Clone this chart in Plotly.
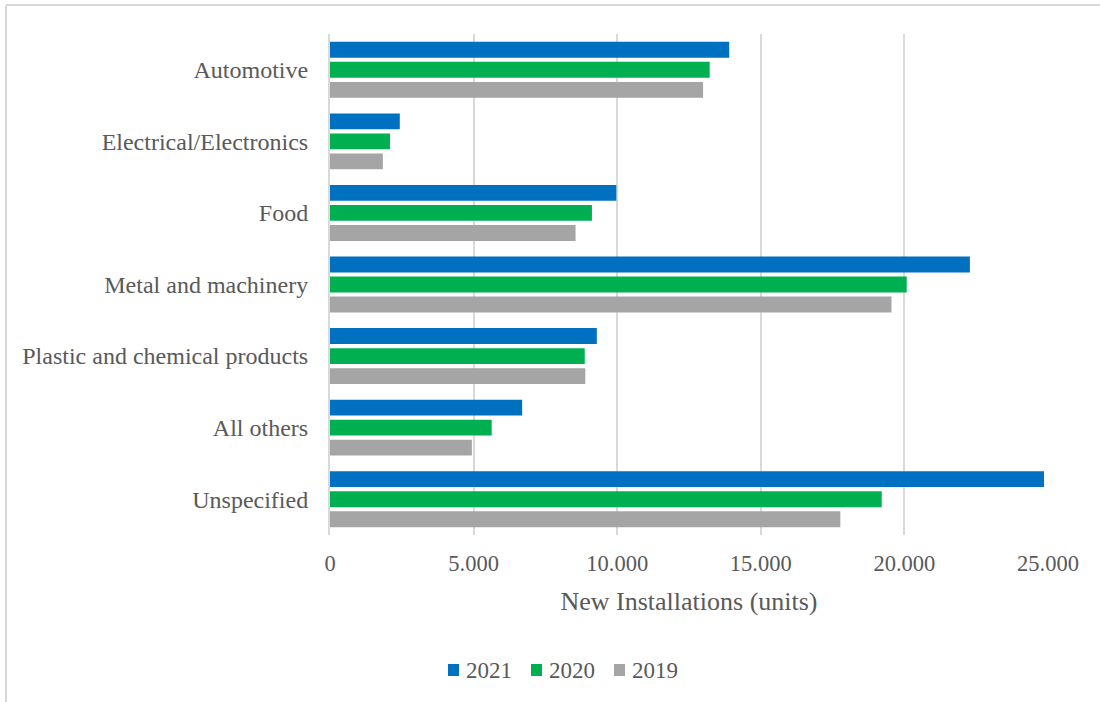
import plotly.graph_objects as go

# Robot installations by customer industry
categories = [
    "Automotive",
    "Electrical/Electronics",
    "Food",
    "Metal and machinery",
    "Plastic and chemical products",
    "All others",
    "Unspecified",
]
years = ["2021", "2020", "2019"]
units_2021 = [13900, 2430, 9970, 22280, 9290, 6690, 24860]
units_2020 = [13220, 2090, 9120, 20080, 8870, 5630, 19210]
units_2019 = [12990, 1840, 8550, 19550, 8890, 4940, 17770]
x_tick_vals = [0, 5000, 10000, 15000, 20000, 25000]
x_tick_text = ["0", "5.000", "10.000", "15.000", "20.000", "25.000"]
x_title = "New Installations (units)"

colors = ["#0070C0", "#00B050", "#A5A5A5"]
text_color = "#595959"
grid_color = "#D9D9D9"
font_family = "Liberation Serif, Times New Roman, serif"

W, H = 1100, 702
M_L, M_R, M_T, M_B = 330, 52, 34, 167
PLOT_W = W - M_L - M_R
PLOT_H = H - M_T - M_B


def px_to_paper_x(px):
    return (px - M_L) / PLOT_W


def px_to_paper_y(py):
    return (H - M_B - py) / PLOT_H


fig = go.Figure()
for name, vals, col in zip(years, [units_2021, units_2020, units_2019], colors):
    fig.add_trace(go.Bar(
        y=categories,
        x=vals,
        name=name,
        orientation="h",
        marker=dict(color=col, line=dict(width=0)),
        showlegend=False,
    ))

# Compact legend row below the axis title: swatch + year label
shapes = [
    # chart frame (left and top edges)
    dict(type="line", xref="paper", yref="paper",
         x0=px_to_paper_x(6), x1=px_to_paper_x(6),
         y0=px_to_paper_y(5), y1=px_to_paper_y(760),
         line=dict(color=grid_color, width=2)),
    dict(type="line", xref="paper", yref="paper",
         x0=px_to_paper_x(6), x1=px_to_paper_x(1200),
         y0=px_to_paper_y(5), y1=px_to_paper_y(5),
         line=dict(color=grid_color, width=2)),
]
annotations = []
legend_x0, legend_pitch, legend_y = 448, 83, 670
for i, (name, col) in enumerate(zip(years, colors)):
    sx = legend_x0 + i * legend_pitch
    shapes.append(dict(
        type="rect", xref="paper", yref="paper",
        x0=px_to_paper_x(sx), x1=px_to_paper_x(sx + 11),
        y0=px_to_paper_y(legend_y - 6), y1=px_to_paper_y(legend_y + 6),
        fillcolor=col, line=dict(width=0),
    ))
    annotations.append(dict(
        xref="paper", yref="paper",
        x=px_to_paper_x(sx + 16), y=px_to_paper_y(legend_y),
        xanchor="left", yanchor="middle",
        text=name, showarrow=False,
        font=dict(size=23, color=text_color, family=font_family),
    ))

fig.update_layout(
    width=W,
    height=H,
    barmode="group",
    bargap=0.16,
    bargroupgap=0.21,
    plot_bgcolor="white",
    paper_bgcolor="white",
    font=dict(family=font_family, color=text_color, size=23),
    margin=dict(l=M_L, r=M_R, t=M_T, b=M_B, autoexpand=False),
    showlegend=False,
    xaxis=dict(
        range=[0, 25000],
        tickvals=x_tick_vals,
        ticktext=x_tick_text,
        showgrid=True,
        gridcolor=grid_color,
        gridwidth=2,
        zeroline=False,
        showline=False,
        ticks="outside",
        ticklen=8,
        tickcolor="rgba(0,0,0,0)",
        tickfont=dict(size=22.5, color=text_color),
        title=dict(text=x_title, font=dict(size=26, color=text_color), standoff=16),
        fixedrange=True,
    ),
    yaxis=dict(
        autorange="reversed",
        showgrid=False,
        showline=True,
        linecolor=grid_color,
        linewidth=2,
        ticks="outside",
        ticklen=15,
        tickcolor="rgba(0,0,0,0)",
        tickfont=dict(size=24, color=text_color),
        fixedrange=True,
    ),
    shapes=shapes,
    annotations=annotations,
)

fig.write_html("out.html")
